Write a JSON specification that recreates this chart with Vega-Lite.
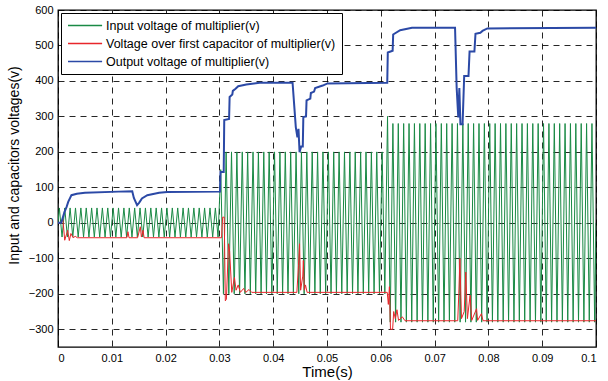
{
"$schema": "https://vega.github.io/schema/vega-lite/v6.json",
"width": 538, "height": 337,
"autosize": {"type": "none"},
"padding": {"left": 58, "top": 10, "right": 12, "bottom": 34},
"background": "white",
"title": {"text": "(a)", "anchor": "start", "frame": "group", "dx": 207, "offset": 6, "fontSize": 24, "font": "Liberation Sans", "fontWeight": "normal", "color": "black"},
"config": {
  "font": "Liberation Sans",
  "view": {"stroke": "black", "strokeWidth": 1.3},
  "axis": {"grid": true, "gridColor": "black", "gridDash": [6, 5], "gridWidth": 1, "gridOpacity": 0.85, "domain": false, "ticks": false, "labelFont": "Liberation Sans", "labelFontSize": 11, "labelColor": "black", "labelPadding": 5, "titleFont": "Liberation Sans", "titleFontSize": 15, "titleFontWeight": "normal", "titleColor": "black"},
  "legend": {"orient": "top-left", "offset": 3, "padding": 6, "strokeColor": "black", "fillColor": "white", "symbolType": "M-1,0H5.2", "symbolSize": 121, "symbolStrokeWidth": 1.5, "labelFont": "Liberation Sans", "labelFontSize": 12.5, "labelColor": "black", "labelOffset": 26, "rowPadding": 5, "labelLimit": 400, "cornerRadius": 0}
},
"datasets": {
"g": [
{"t":0,"v":0},
{"t":0.00025,"v":42},{"t":0.00075,"v":-40},{"t":0.00125,"v":42},{"t":0.00175,"v":-40},{"t":0.00225,"v":42},{"t":0.00275,"v":-40},{"t":0.00325,"v":42},{"t":0.00375,"v":-40},{"t":0.00425,"v":42},{"t":0.00475,"v":-40},
{"t":0.00525,"v":42},{"t":0.00575,"v":-40},{"t":0.00625,"v":42},{"t":0.00675,"v":-40},{"t":0.00725,"v":42},{"t":0.00775,"v":-40},{"t":0.00825,"v":42},{"t":0.00875,"v":-40},{"t":0.00925,"v":42},{"t":0.00975,"v":-40},
{"t":0.01025,"v":42},{"t":0.01075,"v":-40},{"t":0.01125,"v":42},{"t":0.01175,"v":-40},{"t":0.01225,"v":42},{"t":0.01275,"v":-40},{"t":0.01325,"v":42},{"t":0.01375,"v":-40},{"t":0.01425,"v":42},{"t":0.01475,"v":-40},
{"t":0.01525,"v":42},{"t":0.01575,"v":-40},{"t":0.01625,"v":42},{"t":0.01675,"v":-40},{"t":0.01725,"v":42},{"t":0.01775,"v":-40},{"t":0.01825,"v":42},{"t":0.01875,"v":-40},{"t":0.01925,"v":42},{"t":0.01975,"v":-40},
{"t":0.02025,"v":42},{"t":0.02075,"v":-40},{"t":0.02125,"v":42},{"t":0.02175,"v":-40},{"t":0.02225,"v":42},{"t":0.02275,"v":-40},{"t":0.02325,"v":42},{"t":0.02375,"v":-40},{"t":0.02425,"v":42},{"t":0.02475,"v":-40},
{"t":0.02525,"v":42},{"t":0.02575,"v":-40},{"t":0.02625,"v":42},{"t":0.02675,"v":-40},{"t":0.02725,"v":42},{"t":0.02775,"v":-40},{"t":0.02825,"v":42},{"t":0.02875,"v":-40},{"t":0.02925,"v":42},{"t":0.02975,"v":-40},
{"t":0.03025,"v":150},{"t":0.03075,"v":-200},{"t":0.03125,"v":200},{"t":0.03175,"v":-200},{"t":0.03225,"v":200},{"t":0.03275,"v":-200},{"t":0.03325,"v":200},{"t":0.03375,"v":-200},{"t":0.03425,"v":200},{"t":0.03475,"v":-200},
{"t":0.03525,"v":200},{"t":0.03575,"v":-200},{"t":0.03625,"v":200},{"t":0.03675,"v":-200},{"t":0.03725,"v":200},{"t":0.03775,"v":-200},{"t":0.03825,"v":200},{"t":0.03875,"v":-200},{"t":0.03925,"v":200},{"t":0.03975,"v":-200},
{"t":0.04025,"v":200},{"t":0.04075,"v":-200},{"t":0.04125,"v":200},{"t":0.04175,"v":-200},{"t":0.04225,"v":200},{"t":0.04275,"v":-200},{"t":0.04325,"v":200},{"t":0.04375,"v":-200},{"t":0.04425,"v":200},{"t":0.04475,"v":-200},
{"t":0.04525,"v":200},{"t":0.04575,"v":-200},{"t":0.04625,"v":200},{"t":0.04675,"v":-200},{"t":0.04725,"v":200},{"t":0.04775,"v":-200},{"t":0.04825,"v":200},{"t":0.04875,"v":-200},{"t":0.04925,"v":200},{"t":0.04975,"v":-200},
{"t":0.05025,"v":200},{"t":0.05075,"v":-200},{"t":0.05125,"v":200},{"t":0.05175,"v":-200},{"t":0.05225,"v":200},{"t":0.05275,"v":-200},{"t":0.05325,"v":200},{"t":0.05375,"v":-200},{"t":0.05425,"v":200},{"t":0.05475,"v":-200},
{"t":0.05525,"v":200},{"t":0.05575,"v":-200},{"t":0.05625,"v":200},{"t":0.05675,"v":-200},{"t":0.05725,"v":200},{"t":0.05775,"v":-200},{"t":0.05825,"v":200},{"t":0.05875,"v":-200},{"t":0.05925,"v":200},{"t":0.05975,"v":-200},
{"t":0.06025,"v":200},{"t":0.06075,"v":-200},{"t":0.06125,"v":300},{"t":0.06175,"v":-280},{"t":0.06225,"v":280},{"t":0.06275,"v":-280},{"t":0.06325,"v":280},{"t":0.06375,"v":-280},{"t":0.06425,"v":280},{"t":0.06475,"v":-280},
{"t":0.06525,"v":280},{"t":0.06575,"v":-280},{"t":0.06625,"v":280},{"t":0.06675,"v":-280},{"t":0.06725,"v":280},{"t":0.06775,"v":-280},{"t":0.06825,"v":280},{"t":0.06875,"v":-280},{"t":0.06925,"v":280},{"t":0.06975,"v":-280},
{"t":0.07025,"v":280},{"t":0.07075,"v":-280},{"t":0.07125,"v":280},{"t":0.07175,"v":-280},{"t":0.07225,"v":280},{"t":0.07275,"v":-280},{"t":0.07325,"v":280},{"t":0.07375,"v":-280},{"t":0.07425,"v":280},{"t":0.07475,"v":-280},
{"t":0.07525,"v":280},{"t":0.07575,"v":-280},{"t":0.07625,"v":280},{"t":0.07675,"v":-280},{"t":0.07725,"v":280},{"t":0.07775,"v":-280},{"t":0.07825,"v":280},{"t":0.07875,"v":-280},{"t":0.07925,"v":280},{"t":0.07975,"v":-280},
{"t":0.08025,"v":280},{"t":0.08075,"v":-280},{"t":0.08125,"v":280},{"t":0.08175,"v":-280},{"t":0.08225,"v":280},{"t":0.08275,"v":-280},{"t":0.08325,"v":280},{"t":0.08375,"v":-280},{"t":0.08425,"v":280},{"t":0.08475,"v":-280},
{"t":0.08525,"v":280},{"t":0.08575,"v":-280},{"t":0.08625,"v":280},{"t":0.08675,"v":-280},{"t":0.08725,"v":280},{"t":0.08775,"v":-280},{"t":0.08825,"v":280},{"t":0.08875,"v":-280},{"t":0.08925,"v":280},{"t":0.08975,"v":-280},
{"t":0.09025,"v":280},{"t":0.09075,"v":-280},{"t":0.09125,"v":280},{"t":0.09175,"v":-280},{"t":0.09225,"v":280},{"t":0.09275,"v":-280},{"t":0.09325,"v":280},{"t":0.09375,"v":-280},{"t":0.09425,"v":280},{"t":0.09475,"v":-280},
{"t":0.09525,"v":280},{"t":0.09575,"v":-280},{"t":0.09625,"v":280},{"t":0.09675,"v":-280},{"t":0.09725,"v":280},{"t":0.09775,"v":-280},{"t":0.09825,"v":280},{"t":0.09875,"v":-280},{"t":0.09925,"v":280},{"t":0.09975,"v":-280},
{"t":0.1,"v":0}
],
"r": [
{"t":0,"v":0},{"t":0.0006,"v":0},{"t":0.0009,"v":10},{"t":0.00125,"v":-49},{"t":0.0018,"v":-21},{"t":0.0021,"v":-50},{"t":0.0024,"v":-30},{"t":0.0028,"v":-42},{"t":0.0032,"v":-38},{"t":0.0036,"v":-42},
{"t":0.0128,"v":-42},{"t":0.013,"v":-25},{"t":0.0132,"v":-42},{"t":0.0148,"v":-42},{"t":0.0153,"v":-11},{"t":0.0155,"v":-40},{"t":0.0158,"v":-21},{"t":0.016,"v":-42},{"t":0.0304,"v":-42},
{"t":0.0306,"v":16},{"t":0.0309,"v":16},{"t":0.0311,"v":-220},{"t":0.0313,"v":-215},{"t":0.0317,"v":-59},{"t":0.0319,"v":-80},{"t":0.0323,"v":-196},{"t":0.0328,"v":-154},{"t":0.0331,"v":-190},{"t":0.0335,"v":-175},
{"t":0.0339,"v":-196},{"t":0.0345,"v":-185},{"t":0.0349,"v":-196},{"t":0.0355,"v":-188},{"t":0.036,"v":-196},{"t":0.0444,"v":-196},{"t":0.0447,"v":-120},{"t":0.0449,"v":-59},{"t":0.0451,"v":-190},{"t":0.0455,"v":-150},
{"t":0.0456,"v":-106},{"t":0.0458,"v":-190},{"t":0.046,"v":-175},{"t":0.0463,"v":-196},{"t":0.0612,"v":-196},{"t":0.0614,"v":-230},{"t":0.0616,"v":-180},{"t":0.0618,"v":-300},{"t":0.0622,"v":-300},{"t":0.0624,"v":-250},
{"t":0.0627,"v":-270},{"t":0.063,"v":-245},{"t":0.0633,"v":-275},{"t":0.064,"v":-265},{"t":0.0645,"v":-276},{"t":0.0743,"v":-276},{"t":0.0745,"v":-200},{"t":0.0747,"v":-101},{"t":0.075,"v":-270},{"t":0.0755,"v":-250},
{"t":0.0758,"v":-139},{"t":0.0761,"v":-270},{"t":0.0766,"v":-204},{"t":0.0769,"v":-275},{"t":0.0778,"v":-242},{"t":0.078,"v":-275},{"t":0.0787,"v":-256},{"t":0.079,"v":-276},{"t":0.1,"v":-276}
],
"b": [
{"t":0,"v":0},{"t":0.0006,"v":0},{"t":0.0012,"v":30},{"t":0.0016,"v":45},{"t":0.0019,"v":59},{"t":0.0025,"v":78},{"t":0.0035,"v":82},{"t":0.005,"v":85},{"t":0.01125,"v":88},{"t":0.0138,"v":89},
{"t":0.0141,"v":70},{"t":0.0147,"v":50},{"t":0.0151,"v":57},{"t":0.0156,"v":69},{"t":0.0166,"v":78},{"t":0.0188,"v":85},{"t":0.0203,"v":87},{"t":0.0301,"v":88},{"t":0.0302,"v":143},{"t":0.0308,"v":143},
{"t":0.0309,"v":290},{"t":0.0318,"v":293},{"t":0.0319,"v":355},{"t":0.0324,"v":362},{"t":0.0325,"v":372},{"t":0.033,"v":378},{"t":0.0335,"v":385},{"t":0.035,"v":390},{"t":0.0375,"v":395},{"t":0.0436,"v":395},
{"t":0.0442,"v":270},{"t":0.0445,"v":241},{"t":0.0447,"v":265},{"t":0.0449,"v":199},{"t":0.0452,"v":215},{"t":0.0455,"v":215},{"t":0.0456,"v":298},{"t":0.0461,"v":300},{"t":0.0462,"v":345},{"t":0.0469,"v":350},
{"t":0.047,"v":366},{"t":0.0476,"v":370},{"t":0.0478,"v":380},{"t":0.0492,"v":387},{"t":0.0501,"v":393},{"t":0.0612,"v":395},{"t":0.0613,"v":480},{"t":0.0622,"v":485},{"t":0.0623,"v":531},{"t":0.0636,"v":543},
{"t":0.0658,"v":550},{"t":0.0738,"v":550},{"t":0.0741,"v":381},{"t":0.0744,"v":297},{"t":0.0746,"v":380},{"t":0.0748,"v":278},{"t":0.0752,"v":278},{"t":0.0755,"v":414},{"t":0.0763,"v":414},{"t":0.0765,"v":483},
{"t":0.0774,"v":483},{"t":0.0776,"v":533},{"t":0.0785,"v":536},{"t":0.0789,"v":541},{"t":0.0798,"v":548},{"t":0.1,"v":550}
]
},
"encoding": {
  "x": {"field": "t", "type": "quantitative", "scale": {"domain": [0, 0.1], "nice": false, "zero": false},
        "axis": {"values": [0, 0.01, 0.02, 0.03, 0.04, 0.05, 0.06, 0.07, 0.08, 0.09, 0.1], "format": "~f", "title": "Time(s)", "titlePadding": 1}},
  "y": {"field": "v", "type": "quantitative", "scale": {"domain": [-350, 600], "nice": false},
        "axis": {"values": [-300, -200, -100, 0, 100, 200, 300, 400, 500, 600], "title": "Input and capacitors voltages(v)", "titleFontSize": 14, "titlePadding": 7, "titleY": 155}}
},
"layer": [
  {"data": {"name": "g"}, "mark": {"type": "line", "strokeWidth": 1, "clip": true},
   "encoding": {"color": {"datum": "Input voltage of multiplier(v)", "type": "nominal",
     "scale": {"domain": ["Input voltage of multiplier(v)", "Voltage over first capacitor of multiplier(v)", "Output voltage of multiplier(v)"], "range": ["#1a8a45", "#e8262b", "#2b49a6"]},
     "legend": {"title": null}}}},
  {"data": {"name": "r"}, "mark": {"type": "line", "strokeWidth": 1, "clip": true},
   "encoding": {"color": {"datum": "Voltage over first capacitor of multiplier(v)", "type": "nominal"}}},
  {"data": {"name": "b"}, "mark": {"type": "line", "strokeWidth": 2, "clip": true},
   "encoding": {"color": {"datum": "Output voltage of multiplier(v)", "type": "nominal"}}}
]
}
